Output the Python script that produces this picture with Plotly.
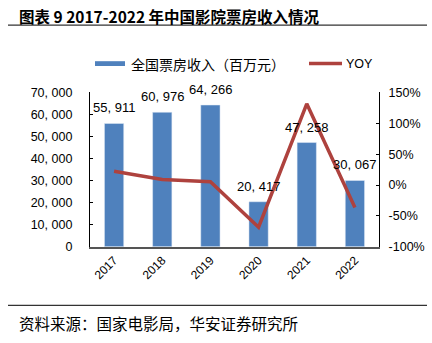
import plotly.graph_objects as go

years = ["2017", "2018", "2019", "2020", "2021", "2022"]
box_office = [55911, 60976, 64266, 20417, 47258, 30067]
yoy = [22.4, 9.1, 5.4, -68.2, 131.5, -36.4]
left_ticks = [0, 10000, 20000, 30000, 40000, 50000, 60000, 70000]
left_tick_text = ["0", "10, 000", "20, 000", "30, 000", "40, 000", "50, 000", "60, 000", "70, 000"]
right_ticks = [-100, -50, 0, 50, 100, 150]
right_tick_text = ["-100%", "-50%", "0%", "50%", "100%", "150%"]

W, H = 432, 343
BLUE = "#4F81BD"
RED = "#AE423E"
NUM_FONT = "Liberation Sans, Arial, sans-serif"
CJK_FONT = "Noto Sans CJK SC, sans-serif"

def px(x):
    return x / W

def py(y):
    return 1 - y / H

bar_labels = [f"{v:,}".replace(",", ", ") for v in box_office]

fig = go.Figure()
fig.add_trace(go.Bar(
    x=years, y=box_office, marker_color=BLUE, width=0.4,
    showlegend=False, yaxis="y",
))
fig.add_trace(go.Scatter(
    x=years, y=yoy, mode="lines", line=dict(color=RED, width=3.5),
    showlegend=False, yaxis="y2", cliponaxis=False,
))

fig.update_layout(
    width=W, height=H, margin=dict(l=0, r=0, t=0, b=0),
    plot_bgcolor="white", paper_bgcolor="white",
    xaxis=dict(type="category", domain=[px(90), px(379)], showline=True, linecolor="#555", linewidth=1.5,
               tickangle=-45, tickfont=dict(family=NUM_FONT, size=12, color="#000"),
               ticks="", showgrid=False),
    yaxis=dict(range=[0, 70000], tickvals=left_ticks, ticktext=left_tick_text,
               domain=[py(250), py(89)], showline=True, linecolor="#000", linewidth=1.2,
               ticks="inside", ticklen=3, tickcolor="#000", showgrid=False, zeroline=False,
               tickfont=dict(family=NUM_FONT, size=12.5, color="#000"), ticklabelstandoff=14),
    yaxis2=dict(range=[-100, 150], tickvals=right_ticks, ticktext=right_tick_text,
                overlaying="y", side="right", showline=True, linecolor="#000", linewidth=1.2,
                ticks="inside", ticklen=3, tickcolor="#000", showgrid=False, zeroline=False,
                tickfont=dict(family=NUM_FONT, size=12.5, color="#000"), ticklabelstandoff=6),
    bargap=0.6,
)

shapes = [
    dict(type="line", xref="paper", yref="paper", x0=px(8), x1=px(427), y0=py(19), y1=py(19),
         line=dict(color="#333", width=1.2)),
    dict(type="line", xref="paper", yref="paper", x0=px(8), x1=px(427), y0=py(311), y1=py(311),
         line=dict(color="#333", width=1.2)),
    dict(type="rect", xref="paper", yref="paper", x0=px(95), x1=px(125), y0=py(61.5), y1=py(56.5),
         fillcolor=BLUE, line=dict(width=0)),
    dict(type="line", xref="paper", yref="paper", x0=px(309), x1=px(342), y0=py(59), y1=py(59),
         line=dict(color=RED, width=3.5)),
]
annotations = [
    dict(text="<b>图表 9 2017-2022 年中国影院票房收入情况</b>", xref="paper", yref="paper",
         x=px(17), y=py(9), xanchor="left", yanchor="middle", showarrow=False,
         font=dict(family=CJK_FONT, size=15.5, color="#000")),
    dict(text="全国票房收入（百万元）", xref="paper", yref="paper",
         x=px(129), y=py(59), xanchor="left", yanchor="middle", showarrow=False,
         font=dict(family=CJK_FONT, size=14, color="#000")),
    dict(text="YOY", xref="paper", yref="paper",
         x=px(344), y=py(59), xanchor="left", yanchor="middle", showarrow=False,
         font=dict(family=NUM_FONT, size=12.5, color="#000")),
    dict(text="资料来源：国家电影局，华安证券研究所", xref="paper", yref="paper",
         x=px(17), y=py(329), xanchor="left", yanchor="middle", showarrow=False,
         font=dict(family=CJK_FONT, size=15.5, color="#000")),
]
for i, (v, lab) in enumerate(zip(box_office, bar_labels)):
    annotations.append(dict(text=lab, x=i, y=v, xref="x", yref="y", showarrow=False,
                            yanchor="bottom", xanchor="center", yshift=6,
                            font=dict(family=NUM_FONT, size=13, color="#000")))
fig.update_layout(shapes=shapes, annotations=annotations)

fig.write_html("out.html")
